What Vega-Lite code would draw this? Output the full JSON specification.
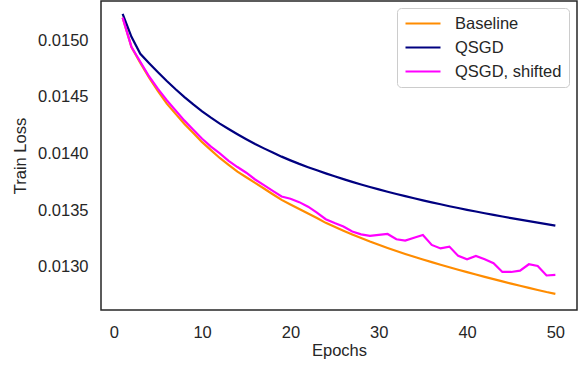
{
  "$schema": "https://vega.github.io/schema/vega-lite/v6.json",
  "width": 476,
  "height": 309,
  "autosize": {"type": "none"},
  "padding": {"left": 101, "top": 1, "right": 5, "bottom": 56},
  "background": "white",
  "data": {
    "values": [
      {"epoch":1,"series":"Baseline","loss":0.01520},{"epoch":2,"series":"Baseline","loss":0.01494},{"epoch":3,"series":"Baseline","loss":0.01480},{"epoch":4,"series":"Baseline","loss":0.01467},{"epoch":5,"series":"Baseline","loss":0.01455},{"epoch":6,"series":"Baseline","loss":0.01444},{"epoch":7,"series":"Baseline","loss":0.01435},{"epoch":8,"series":"Baseline","loss":0.01426},{"epoch":9,"series":"Baseline","loss":0.01418},{"epoch":10,"series":"Baseline","loss":0.01410},
      {"epoch":11,"series":"Baseline","loss":0.01403},{"epoch":12,"series":"Baseline","loss":0.01396},{"epoch":13,"series":"Baseline","loss":0.01390},{"epoch":14,"series":"Baseline","loss":0.01384},{"epoch":15,"series":"Baseline","loss":0.01379},{"epoch":16,"series":"Baseline","loss":0.01374},{"epoch":17,"series":"Baseline","loss":0.01369},{"epoch":18,"series":"Baseline","loss":0.01364},{"epoch":19,"series":"Baseline","loss":0.01359},{"epoch":20,"series":"Baseline","loss":0.01355},
      {"epoch":21,"series":"Baseline","loss":0.01351},{"epoch":22,"series":"Baseline","loss":0.01347},{"epoch":23,"series":"Baseline","loss":0.01343},{"epoch":24,"series":"Baseline","loss":0.013387},{"epoch":25,"series":"Baseline","loss":0.013352},{"epoch":26,"series":"Baseline","loss":0.013318},{"epoch":27,"series":"Baseline","loss":0.013285},{"epoch":28,"series":"Baseline","loss":0.013253},{"epoch":29,"series":"Baseline","loss":0.013222},{"epoch":30,"series":"Baseline","loss":0.013193},
      {"epoch":31,"series":"Baseline","loss":0.013165},{"epoch":32,"series":"Baseline","loss":0.013138},{"epoch":33,"series":"Baseline","loss":0.013112},{"epoch":34,"series":"Baseline","loss":0.013087},{"epoch":35,"series":"Baseline","loss":0.013063},{"epoch":36,"series":"Baseline","loss":0.013040},{"epoch":37,"series":"Baseline","loss":0.013017},{"epoch":38,"series":"Baseline","loss":0.012995},{"epoch":39,"series":"Baseline","loss":0.012973},{"epoch":40,"series":"Baseline","loss":0.012952},
      {"epoch":41,"series":"Baseline","loss":0.012931},{"epoch":42,"series":"Baseline","loss":0.012910},{"epoch":43,"series":"Baseline","loss":0.012890},{"epoch":44,"series":"Baseline","loss":0.012870},{"epoch":45,"series":"Baseline","loss":0.012850},{"epoch":46,"series":"Baseline","loss":0.012831},{"epoch":47,"series":"Baseline","loss":0.012812},{"epoch":48,"series":"Baseline","loss":0.012794},{"epoch":49,"series":"Baseline","loss":0.012776},{"epoch":50,"series":"Baseline","loss":0.012760},

      {"epoch":1,"series":"QSGD","loss":0.015234},{"epoch":2,"series":"QSGD","loss":0.01503},{"epoch":3,"series":"QSGD","loss":0.01488},{"epoch":4,"series":"QSGD","loss":0.014797},{"epoch":5,"series":"QSGD","loss":0.014717},{"epoch":6,"series":"QSGD","loss":0.01464},{"epoch":7,"series":"QSGD","loss":0.014567},{"epoch":8,"series":"QSGD","loss":0.014498},{"epoch":9,"series":"QSGD","loss":0.014433},{"epoch":10,"series":"QSGD","loss":0.014372},
      {"epoch":11,"series":"QSGD","loss":0.014316},{"epoch":12,"series":"QSGD","loss":0.014264},{"epoch":13,"series":"QSGD","loss":0.014216},{"epoch":14,"series":"QSGD","loss":0.01417},{"epoch":15,"series":"QSGD","loss":0.014126},{"epoch":16,"series":"QSGD","loss":0.014084},{"epoch":17,"series":"QSGD","loss":0.014045},{"epoch":18,"series":"QSGD","loss":0.014008},{"epoch":19,"series":"QSGD","loss":0.013972},{"epoch":20,"series":"QSGD","loss":0.013939},
      {"epoch":21,"series":"QSGD","loss":0.013908},{"epoch":22,"series":"QSGD","loss":0.013879},{"epoch":23,"series":"QSGD","loss":0.013851},{"epoch":24,"series":"QSGD","loss":0.013824},{"epoch":25,"series":"QSGD","loss":0.013798},{"epoch":26,"series":"QSGD","loss":0.013773},{"epoch":27,"series":"QSGD","loss":0.013749},{"epoch":28,"series":"QSGD","loss":0.013726},{"epoch":29,"series":"QSGD","loss":0.013704},{"epoch":30,"series":"QSGD","loss":0.013683},
      {"epoch":31,"series":"QSGD","loss":0.013662},{"epoch":32,"series":"QSGD","loss":0.013642},{"epoch":33,"series":"QSGD","loss":0.013623},{"epoch":34,"series":"QSGD","loss":0.013604},{"epoch":35,"series":"QSGD","loss":0.013586},{"epoch":36,"series":"QSGD","loss":0.013568},{"epoch":37,"series":"QSGD","loss":0.013551},{"epoch":38,"series":"QSGD","loss":0.013534},{"epoch":39,"series":"QSGD","loss":0.013518},{"epoch":40,"series":"QSGD","loss":0.013502},
      {"epoch":41,"series":"QSGD","loss":0.013487},{"epoch":42,"series":"QSGD","loss":0.013472},{"epoch":43,"series":"QSGD","loss":0.013457},{"epoch":44,"series":"QSGD","loss":0.013443},{"epoch":45,"series":"QSGD","loss":0.013429},{"epoch":46,"series":"QSGD","loss":0.013415},{"epoch":47,"series":"QSGD","loss":0.013402},{"epoch":48,"series":"QSGD","loss":0.013389},{"epoch":49,"series":"QSGD","loss":0.013376},{"epoch":50,"series":"QSGD","loss":0.013362},

      {"epoch":1,"series":"QSGD, shifted","loss":0.01520},{"epoch":2,"series":"QSGD, shifted","loss":0.01494},{"epoch":3,"series":"QSGD, shifted","loss":0.01481},{"epoch":4,"series":"QSGD, shifted","loss":0.01468},{"epoch":5,"series":"QSGD, shifted","loss":0.01457},{"epoch":6,"series":"QSGD, shifted","loss":0.01447},{"epoch":7,"series":"QSGD, shifted","loss":0.01438},{"epoch":8,"series":"QSGD, shifted","loss":0.01429},{"epoch":9,"series":"QSGD, shifted","loss":0.01421},{"epoch":10,"series":"QSGD, shifted","loss":0.01413},
      {"epoch":11,"series":"QSGD, shifted","loss":0.01406},{"epoch":12,"series":"QSGD, shifted","loss":0.01400},{"epoch":13,"series":"QSGD, shifted","loss":0.013935},{"epoch":14,"series":"QSGD, shifted","loss":0.01388},{"epoch":15,"series":"QSGD, shifted","loss":0.01383},{"epoch":16,"series":"QSGD, shifted","loss":0.01377},{"epoch":17,"series":"QSGD, shifted","loss":0.01372},{"epoch":18,"series":"QSGD, shifted","loss":0.01367},{"epoch":19,"series":"QSGD, shifted","loss":0.01362},{"epoch":20,"series":"QSGD, shifted","loss":0.01360},
      {"epoch":21,"series":"QSGD, shifted","loss":0.01357},{"epoch":22,"series":"QSGD, shifted","loss":0.01353},{"epoch":23,"series":"QSGD, shifted","loss":0.013478},{"epoch":24,"series":"QSGD, shifted","loss":0.013419},{"epoch":25,"series":"QSGD, shifted","loss":0.013385},{"epoch":26,"series":"QSGD, shifted","loss":0.013354},{"epoch":27,"series":"QSGD, shifted","loss":0.013310},{"epoch":28,"series":"QSGD, shifted","loss":0.013285},{"epoch":29,"series":"QSGD, shifted","loss":0.013272},{"epoch":30,"series":"QSGD, shifted","loss":0.013280},
      {"epoch":31,"series":"QSGD, shifted","loss":0.013289},{"epoch":32,"series":"QSGD, shifted","loss":0.013242},{"epoch":33,"series":"QSGD, shifted","loss":0.013230},{"epoch":34,"series":"QSGD, shifted","loss":0.013256},{"epoch":35,"series":"QSGD, shifted","loss":0.013280},{"epoch":36,"series":"QSGD, shifted","loss":0.013192},{"epoch":37,"series":"QSGD, shifted","loss":0.013161},{"epoch":38,"series":"QSGD, shifted","loss":0.013177},{"epoch":39,"series":"QSGD, shifted","loss":0.013095},{"epoch":40,"series":"QSGD, shifted","loss":0.013065},
      {"epoch":41,"series":"QSGD, shifted","loss":0.013095},{"epoch":42,"series":"QSGD, shifted","loss":0.013065},{"epoch":43,"series":"QSGD, shifted","loss":0.013030},{"epoch":44,"series":"QSGD, shifted","loss":0.012953},{"epoch":45,"series":"QSGD, shifted","loss":0.012953},{"epoch":46,"series":"QSGD, shifted","loss":0.012965},{"epoch":47,"series":"QSGD, shifted","loss":0.013021},{"epoch":48,"series":"QSGD, shifted","loss":0.013006},{"epoch":49,"series":"QSGD, shifted","loss":0.012922},{"epoch":50,"series":"QSGD, shifted","loss":0.012927}
    ]
  },
  "mark": {"type": "line", "strokeWidth": 2.2, "interpolate": "linear"},
  "encoding": {
    "x": {
      "field": "epoch", "type": "quantitative",
      "scale": {"domain": [-1.45, 52.45], "nice": false, "zero": false},
      "axis": {"values": [0, 10, 20, 30, 40, 50], "title": "Epochs", "labelPadding": 14, "titlePadding": 2, "labelFlush": false}
    },
    "y": {
      "field": "loss", "type": "quantitative",
      "scale": {"domain": [0.012617, 0.015347], "nice": false, "zero": false},
      "axis": {"values": [0.013, 0.0135, 0.014, 0.0145, 0.015], "format": ".4f", "title": "Train Loss", "labelPadding": 13, "titlePadding": 9, "labelFlush": false}
    },
    "color": {
      "field": "series", "type": "nominal",
      "scale": {"domain": ["Baseline", "QSGD", "QSGD, shifted"], "range": ["#ff8c00", "#000080", "#ff00ff"]},
      "legend": {
        "title": null, "orient": "none", "legendX": 296, "legendY": 7,
        "padding": 7, "symbolType": "M-1,0L4,0", "symbolSize": 196, "symbolStrokeWidth": 2.2,
        "labelOffset": 34, "rowPadding": 7, "labelFontSize": 16.5, "labelColor": "#262626",
        "strokeColor": "#cccccc", "fillColor": "white", "cornerRadius": 4
      }
    }
  },
  "config": {
    "font": "Liberation Sans",
    "view": {"stroke": "#262626", "strokeWidth": 1.5},
    "axis": {
      "grid": false, "domain": false, "ticks": false, "tickSize": 0,
      "labelFontSize": 16.5, "labelColor": "#262626",
      "titleFontSize": 16.5, "titleColor": "#262626", "titleFontWeight": "normal"
    }
  }
}
